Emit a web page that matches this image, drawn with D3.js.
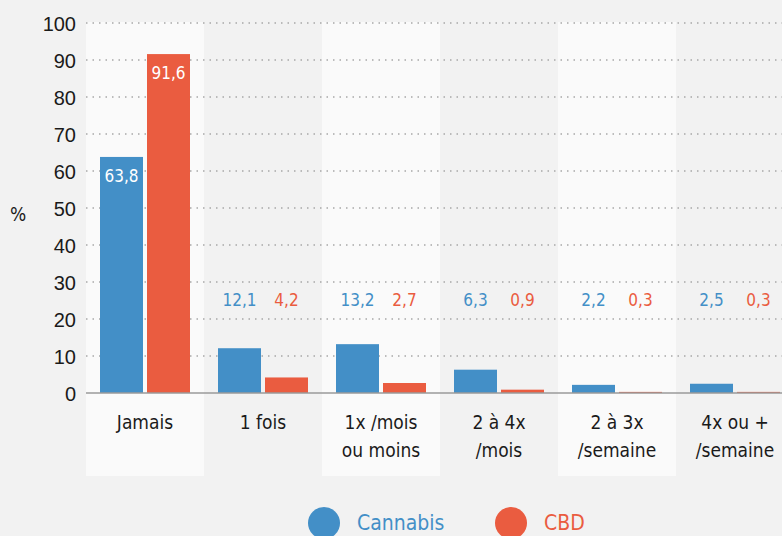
<!DOCTYPE html>
<html>
<head>
<meta charset="utf-8">
<script src="https://cdn.jsdelivr.net/npm/d3@7"></script>
<style>
html,body{margin:0;padding:0;background:#f2f2f2;}
svg{display:block;font-family:"DejaVu Sans Condensed","DejaVu Sans",sans-serif;}
</style>
</head>
<body>
<svg id="chart" width="782" height="536"></svg>
<script>
const categories = [["Jamais"],["1 fois"],["1x /mois","ou moins"],["2 à 4x","/mois"],["2 à 3x","/semaine"],["4x ou +","/semaine"]];
const seriesNames = ["Cannabis","CBD"];
const cannabis = [63.8,12.1,13.2,6.3,2.2,2.5];
const cbd = [91.6,4.2,2.7,0.9,0.3,0.3];
const yTicks = [0,10,20,30,40,50,60,70,80,90,100];
const colors = ["#438fc7","#ea5c40"];

const svg = d3.select("#chart");
const fmt = v => d3.format(".1f")(v).replace(".", ",");
const catKeys = categories.map((c,i)=>i);

const x0 = d3.scaleBand().domain(catKeys).range([86, 794]).paddingInner(0).paddingOuter(0);
const x1 = d3.scaleBand().domain(seriesNames).range([14, 104]).paddingInner(4/47).paddingOuter(0);
const y = d3.scaleLinear().domain([0,100]).range([393, 23]);

// alternating bands
svg.append("g").selectAll("rect").data(catKeys.filter(i=>i%2===0)).join("rect")
  .attr("x", d=>x0(d)).attr("width", x0.bandwidth())
  .attr("y", 22).attr("height", 476-22)
  .attr("fill", "#fafafa");

// grid
svg.append("g").selectAll("line").data(yTicks.filter(t=>t>0)).join("line")
  .attr("x1", 86).attr("x2", 782)
  .attr("y1", d=>y(d)).attr("y2", d=>y(d))
  .attr("stroke", "#a8a8a8").attr("stroke-width", 1.5)
  .attr("stroke-dasharray", "1.5,5");

// y tick labels
const yAxis = d3.axisLeft(y).tickValues(yTicks).tickSize(0).tickPadding(0);
const ya = svg.append("g").attr("transform","translate(76,0)").call(yAxis);
ya.select(".domain").remove();
ya.selectAll("text").attr("font-size", 20).attr("fill", "#1a1a1a")
  .attr("font-family", "inherit").attr("dy", "0.35em");

svg.append("text").attr("x", 18).attr("y", 214).attr("text-anchor","middle")
  .attr("dy","0.35em").attr("font-size", 19).attr("fill","#1a1a1a").text("%");

// bars
const data = catKeys.map(i => ({i, vals: [cannabis[i], cbd[i]]}));
const groups = svg.append("g").selectAll("g").data(data).join("g")
  .attr("transform", d=>`translate(${x0(d.i)},0)`);
groups.selectAll("rect").data(d=>d.vals.map((v,k)=>({v,k,s:seriesNames[k]}))).join("rect")
  .attr("x", d=>x1(d.s)).attr("width", x1.bandwidth())
  .attr("y", d=>y(d.v)).attr("height", d=>y(0)-y(d.v))
  .attr("fill", d=>colors[d.k]);

// zero line
svg.append("line").attr("x1",86).attr("x2",782).attr("y1",y(0)).attr("y2",y(0))
  .attr("stroke","#9a9a9a").attr("stroke-width",1.5);

// value labels
groups.selectAll("text.val").data(d=>d.vals.map((v,k)=>({v,k,s:seriesNames[k],i:d.i}))).join("text")
  .attr("class","val")
  .attr("x", d=>x1(d.s)+x1.bandwidth()/2)
  .attr("y", d=> d.i===0 ? y(d.v)+19 : 300)
  .attr("dy","0.35em").attr("text-anchor","middle").attr("font-size",17)
  .attr("fill", d=> d.i===0 ? "#ffffff" : colors[d.k])
  .text(d=>fmt(d.v));

// category labels
const cl = svg.append("g").selectAll("text").data(catKeys).join("text")
  .attr("x", d=>x0(d)+x0.bandwidth()/2).attr("text-anchor","middle")
  .attr("font-size",19).attr("fill","#1a1a1a");
cl.selectAll("tspan").data(d=>categories[d].map((t,j)=>({t,j}))).join("tspan")
  .attr("x", function(){return d3.select(this.parentNode).attr("x");})
  .attr("y", d=>422+d.j*28).attr("dy","0.35em").text(d=>d.t);

// legend
const legX = [324, 511];
const leg = svg.append("g").selectAll("g").data(seriesNames).join("g");
leg.append("circle").attr("cx",(d,i)=>legX[i]).attr("cy",523).attr("r",16).attr("fill",(d,i)=>colors[i]);
leg.append("text").attr("x",(d,i)=>legX[i]+33).attr("y",523).attr("dy","0.35em")
  .attr("font-size",21).attr("fill",(d,i)=>colors[i]).text(d=>d);
</script>
</body>
</html>
